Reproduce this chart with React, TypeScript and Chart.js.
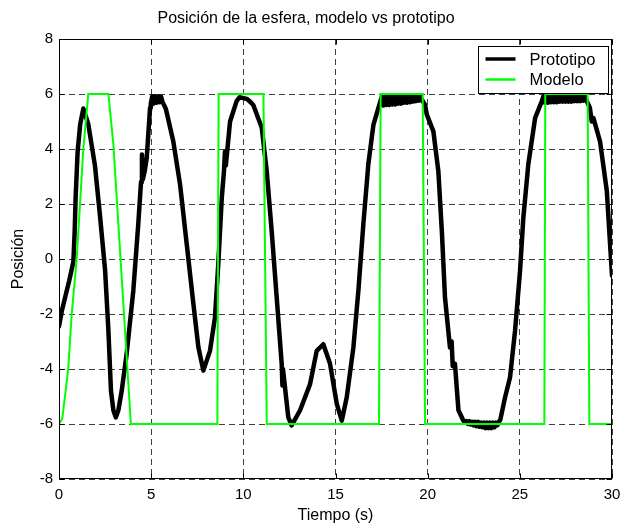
import React, { useEffect, useRef } from "react";
import { Chart, registerables } from "chart.js";

Chart.register(...registerables);

const FONT = "'Liberation Sans', Arial, Helvetica, sans-serif";

const chartTitle = "Posición de la esfera, modelo vs prototipo";
const xLabel = "Tiempo (s)";
const yLabel = "Posición";
const seriesNames = ["Prototipo", "Modelo"];
const seriesColors = ["#000000", "#00ff00"];

const xMin = 0;
const xMax = 30;
const xStep = 5;
const yMin = -8;
const yMax = 8;
const yStep = 2;

const protoT = [
  0, 0.15, 0.33, 0.55, 0.78, 0.85, 0.9, 1.01, 1.15, 1.32, 1.45, 1.59, 1.95, 2.22, 2.5, 2.68, 2.82, 2.95, 3.08, 3.22,
  3.4, 3.67, 4.03, 4.3, 4.45, 4.5, 4.55, 4.65, 4.76, 4.94,
  4.98, 5.06, 5.14, 5.22, 5.3, 5.38, 5.46, 5.54, 5.62, 5.7, 5.8,
  6.2, 6.57, 6.93, 7.29, 7.56, 7.83, 8.19,
  8.46, 8.64, 8.83, 8.95, 9.0, 9.05, 9.28,
  9.64, 9.8, 10.0, 10.2, 10.4,
  10.54, 11.0, 11.27, 11.54, 11.81, 12.08, 12.12, 12.15,
  12.44, 12.62, 13.08, 13.62, 13.98, 14.34, 14.7, 15.07, 15.34, 15.61, 15.97, 16.24, 16.51, 16.78, 17.06,
  17.44, 17.52, 17.6, 17.68, 17.76, 17.84, 17.92, 18.0, 18.08, 18.16, 18.24, 18.32, 18.4, 18.48, 18.56, 18.64,
  18.72, 18.8, 18.88, 18.96, 19.04, 19.12, 19.2, 19.28, 19.36, 19.44, 19.52, 19.6, 19.68,
  19.86, 19.95, 20.31, 20.58, 20.77, 20.94, 21.21, 21.3, 21.36, 21.48, 21.67,
  21.94, 22.02, 22.1, 22.18, 22.26, 22.34, 22.42, 22.5, 22.58, 22.66, 22.74, 22.82, 22.9, 22.98, 23.06, 23.14,
  23.22, 23.3, 23.38, 23.46, 23.54, 23.62, 23.7, 23.78, 23.86, 23.94,
  24.2, 24.47, 24.74, 25.01, 25.19, 25.46, 25.83,
  26.2, 26.28, 26.36, 26.44, 26.52, 26.6, 26.68, 26.76, 26.84, 26.92, 27.0, 27.08, 27.16, 27.24, 27.32, 27.4,
  27.48, 27.56, 27.64, 27.72, 27.8, 27.88, 27.96, 28.04, 28.12, 28.2, 28.28, 28.36, 28.44, 28.52, 28.6,
  28.8, 28.9, 28.99, 29.35, 29.72, 30.0,
];
const protoY = [
  -2.45, -1.9, -1.4, -0.8, -0.1, 1.0, 2.2, 3.9, 4.9, 5.47, 5.2, 4.9, 3.4, 1.6, -0.4, -2.6, -4.8, -5.5, -5.76, -5.5,
  -4.8, -3.45, -1.16, 1.27, 2.8, 3.8, 2.9, 3.2, 3.68, 5.5,
  5.65, 5.92, 5.65, 5.92, 5.68, 5.92, 5.7, 5.9, 5.7, 5.6, 5.45,
  4.28, 2.7, 0.54, -1.63, -3.2, -4.06, -3.34,
  -2.13, -0.2, 2.22, 3.2, 3.9, 3.4, 5.0,
  5.75, 5.88, 5.85, 5.82, 5.7,
  5.6, 4.77, 3.19, 1.0, -1.4, -3.8, -4.6, -4.0,
  -5.76, -6.05, -5.5, -4.55, -3.34, -3.1, -3.8, -5.27, -5.88, -5.03, -3.22, -1.16, 1.26, 3.44, 4.89,
  5.75, 5.92, 5.58, 5.92, 5.6, 5.92, 5.6, 5.92, 5.62, 5.92, 5.62, 5.92, 5.65, 5.92, 5.65, 5.92,
  5.68, 5.92, 5.68, 5.92, 5.7, 5.92, 5.72, 5.92, 5.74, 5.92, 5.76, 5.92, 5.8,
  5.6, 5.26, 4.64, 3.19, 1.0, -1.4, -3.22, -3.0, -3.9, -3.81, -5.5,
  -5.88, -5.95, -5.9, -6.0, -5.9, -6.02, -5.92, -6.05, -5.92, -6.08, -5.92, -6.1, -5.95, -6.12, -5.95, -6.15,
  -5.95, -6.15, -5.95, -6.15, -5.95, -6.12, -5.95, -6.05, -5.92, -5.85,
  -5.03, -4.3, -2.61, -0.44, 1.5, 3.44, 5.13,
  5.75, 5.92, 5.68, 5.92, 5.68, 5.92, 5.7, 5.92, 5.7, 5.92, 5.7, 5.92, 5.72, 5.92, 5.72, 5.92,
  5.72, 5.92, 5.72, 5.92, 5.72, 5.92, 5.74, 5.92, 5.74, 5.92, 5.74, 5.92, 5.76, 5.92, 5.78,
  5.5, 5.0, 5.13, 4.28, 2.47, -0.6,
];

// Modelo (simulated)
const modelT = [0, 0.18, 0.5, 0.69, 0.96, 1.14, 1.32, 1.59, 2.68, 2.95, 3.9, 8.59, 8.66, 11.09, 11.27, 17.36, 17.45, 19.73, 19.86, 26.33, 26.38, 28.68, 28.77, 30];
const modelY = [-6, -5.8, -4, -2, 0, 2, 4, 6, 6, 4.16, -6, -6, 6, 6, -6, -6, 6, 6, -6, -6, 6, 6, -6, -6];

const toPoints = (t: number[], y: number[]) => t.map((v, i) => ({ x: v, y: y[i] }));

const framePlugin = {
  id: "matlabFrame",
  afterDatasetsDraw(chart: any) {
    const { ctx, chartArea: a, scales } = chart;
    ctx.save();
    ctx.strokeStyle = "#000";
    ctx.lineWidth = 1;
    ctx.setLineDash([]);
    const L = Math.round(a.left) + 0.5;
    const R = Math.round(a.right) - 0.5;
    const T = Math.round(a.top) + 0.5;
    const B = Math.round(a.bottom) - 0.5;
    ctx.strokeRect(L, T, R - L, B - T);
    const tl = 5;
    ctx.beginPath();
    for (let v = xMin; v <= xMax; v += xStep) {
      const px = Math.round(scales.x.getPixelForValue(v)) + 0.5;
      ctx.moveTo(px, B);
      ctx.lineTo(px, B - tl);
      ctx.moveTo(px, T);
      ctx.lineTo(px, T + tl);
    }
    for (let v = yMin; v <= yMax; v += yStep) {
      const py = Math.round(scales.y.getPixelForValue(v)) + 0.5;
      ctx.moveTo(L, py);
      ctx.lineTo(L + tl, py);
      ctx.moveTo(R, py);
      ctx.lineTo(R - tl, py);
    }
    ctx.stroke();
    ctx.restore();
  },
  afterDraw(chart: any) {
    const { ctx, chartArea: a } = chart;
    ctx.save();
    const bw = 130;
    const bh = 47;
    const bx = Math.round(a.right) - 134 + 0.5;
    const by = Math.round(a.top) + 7 + 0.5;
    ctx.fillStyle = "#fff";
    ctx.fillRect(bx, by, bw, bh);
    ctx.strokeStyle = "#000";
    ctx.lineWidth = 1;
    ctx.setLineDash([]);
    ctx.strokeRect(bx, by, bw, bh);
    const rows = [by + 12.5, by + 33];
    const widths = [3.5, 2.5];
    ctx.font = `16.5px ${FONT}`;
    ctx.textBaseline = "middle";
    ctx.textAlign = "left";
    seriesNames.forEach((name, i) => {
      ctx.strokeStyle = seriesColors[i];
      ctx.lineWidth = widths[i];
      ctx.beginPath();
      ctx.moveTo(bx + 7, rows[i]);
      ctx.lineTo(bx + 37, rows[i]);
      ctx.stroke();
      ctx.fillStyle = "#000";
      ctx.fillText(name, bx + 51, rows[i] + 1);
    });
    ctx.restore();
  },
};

export default function App() {
  const ref = useRef<HTMLCanvasElement | null>(null);
  useEffect(() => {
    document.body.style.margin = "0";
    const canvas = ref.current!;
    const chart = new Chart(canvas, {
      type: "line",
      data: {
        datasets: [
          {
            label: seriesNames[0],
            data: toPoints(protoT, protoY),
            borderColor: seriesColors[0],
            borderWidth: 4.5,
            pointRadius: 0,
            tension: 0,
            borderJoinStyle: "round",
            borderCapStyle: "round",
            order: 1,
          },
          {
            label: seriesNames[1],
            data: toPoints(modelT, modelY),
            borderColor: seriesColors[1],
            borderWidth: 2,
            pointRadius: 0,
            tension: 0,
            order: 0,
          },
        ],
      },
      options: {
        responsive: false,
        animation: false,
        devicePixelRatio: 1,
        layout: { padding: { left: 0, right: 17, top: 0, bottom: 0 } },
        plugins: {
          legend: { display: false },
          tooltip: { enabled: false },
          title: {
            display: true,
            text: chartTitle,
            color: "#000",
            font: { family: FONT, size: 16, weight: "normal" },
            padding: { top: 9, bottom: 10.8 },
          },
        },
        scales: {
          x: {
            type: "linear",
            min: xMin,
            max: xMax,
            afterFit: (s: any) => {
              s.height = 50;
            },
            ticks: {
              stepSize: xStep,
              color: "#000",
              font: { family: FONT, size: 15 },
              padding: 7,
              maxRotation: 0,
            },
            grid: { color: "rgba(0,0,0,0.75)", lineWidth: 1, drawTicks: false },
            border: { display: false, dash: [6, 4] },
            title: {
              display: true,
              text: xLabel,
              color: "#000",
              font: { family: FONT, size: 16 },
              padding: { top: 0, bottom: 4 },
            },
          },
          y: {
            type: "linear",
            min: yMin,
            max: yMax,
            afterFit: (s: any) => {
              s.width = 59;
            },
            ticks: {
              stepSize: yStep,
              color: "#000",
              font: { family: FONT, size: 15 },
              padding: 6,
            },
            grid: { color: "rgba(0,0,0,0.75)", lineWidth: 1, drawTicks: false },
            border: { display: false, dash: [6, 4] },
            title: {
              display: true,
              text: yLabel,
              color: "#000",
              font: { family: FONT, size: 16 },
              padding: { top: 9.4, bottom: 0 },
            },
          },
        },
      },
      plugins: [framePlugin],
    });
    return () => chart.destroy();
  }, []);
  return (
    <div style={{ position: "fixed", left: 0, top: 0, width: 629, height: 529, background: "#fff" }}>
      <canvas ref={ref} width={629} height={529} style={{ display: "block" }} />
    </div>
  );
}
